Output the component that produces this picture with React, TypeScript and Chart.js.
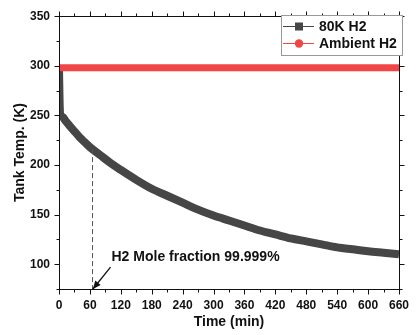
import React, { useEffect, useRef } from "react";
import { Chart, registerables } from "chart.js";

Chart.register(...registerables);

// ---- data ----
const timeMin = [0, 1, 2, 4, 8, 12, 20, 30, 40, 50, 60, 80, 100, 120, 150, 180, 210, 240, 270, 300, 330, 360, 390, 420, 450, 480, 510, 540, 570, 600, 630, 660];
const tank80K = [298, 268, 252, 249, 248, 245, 240, 234, 228, 223, 218, 210, 202, 195, 185, 176, 169, 162, 155, 149, 144, 139, 134, 130, 126, 123, 120, 117, 115, 113, 111.5, 110];
const ambientTime = [0, 660];
const ambientTemp = [298, 298];
const xTicks = [0, 60, 120, 180, 240, 300, 360, 420, 480, 540, 600, 660];
const yTicks = [100, 150, 200, 250, 300, 350];
const seriesLabels = ["80K H2", "Ambient H2"];
const annotationText = "H2 Mole fraction 99.999%";
const markerTime = 64;
const markerTemp = 216;
const arrowFrom = { t: 100, T: 97 };

const DARK = "#464646";
const RED = "#f24646";
const FONT = "Arial, 'Liberation Sans', sans-serif";

const framePlugin = {
  id: "frameTicks",
  afterDatasetsDraw(chart: any) {
    const { ctx, chartArea: a, scales } = chart;
    const xs = scales.x;
    const ys = scales.y;
    ctx.save();
    // dashed marker line
    const mx = xs.getPixelForValue(markerTime);
    ctx.strokeStyle = "#555";
    ctx.lineWidth = 1;
    ctx.setLineDash([5, 3]);
    ctx.beginPath();
    ctx.moveTo(Math.round(mx) + 0.5, ys.getPixelForValue(markerTemp));
    ctx.lineTo(Math.round(mx) + 0.5, a.bottom);
    ctx.stroke();
    ctx.setLineDash([]);
    // arrow
    const ax0 = xs.getPixelForValue(arrowFrom.t);
    const ay0 = ys.getPixelForValue(arrowFrom.T);
    const ax1 = mx + 1;
    const ay1 = a.bottom;
    ctx.strokeStyle = "#111";
    ctx.fillStyle = "#111";
    ctx.lineWidth = 1.3;
    ctx.beginPath();
    ctx.moveTo(ax0, ay0);
    ctx.lineTo(ax1, ay1);
    ctx.stroke();
    const ang = Math.atan2(ay1 - ay0, ax1 - ax0);
    const hl = 8, hw = 3.5;
    ctx.beginPath();
    ctx.moveTo(ax1, ay1);
    ctx.lineTo(ax1 - hl * Math.cos(ang) + hw * Math.sin(ang), ay1 - hl * Math.sin(ang) - hw * Math.cos(ang));
    ctx.lineTo(ax1 - hl * Math.cos(ang) - hw * Math.sin(ang), ay1 - hl * Math.sin(ang) + hw * Math.cos(ang));
    ctx.closePath();
    ctx.fill();
    // annotation text
    ctx.font = "bold 14px " + FONT;
    ctx.fillStyle = "#111";
    ctx.textBaseline = "middle";
    ctx.textAlign = "left";
    ctx.fillText(annotationText, ax0 + 1, ay0 - 10);

    // frame
    ctx.strokeStyle = "#111";
    ctx.lineWidth = 1;
    const L = Math.round(a.left) + 0.5, R = Math.round(a.right) + 0.5;
    const T = Math.round(a.top) + 0.5, B = Math.round(a.bottom) + 0.5;
    ctx.strokeRect(L, T, R - L, B - T);
    ctx.beginPath();
    for (let v = xs.min; v <= xs.max + 0.001; v += 30) {
      const px = Math.round(xs.getPixelForValue(v)) + 0.5;
      const len = v % 60 === 0 ? 5 : 3;
      ctx.moveTo(px, B); ctx.lineTo(px, B + len);
      ctx.moveTo(px, T); ctx.lineTo(px, T - len);
    }
    for (let v = 75; v <= 350.001; v += 25) {
      const py = Math.round(ys.getPixelForValue(v)) + 0.5;
      const len = v % 50 === 0 ? 5 : 3;
      ctx.moveTo(L, py); ctx.lineTo(L - len, py);
      ctx.moveTo(R, py); ctx.lineTo(R + len, py);
    }
    ctx.stroke();

    // legend
    const lx = 281, ly = 15, lw = 121, lh = 40;
    ctx.fillStyle = "#fff";
    ctx.fillRect(lx, ly, lw, lh);
    ctx.strokeStyle = "#999";
    ctx.strokeRect(lx + 0.5, ly + 0.5, lw, lh);
    const rows = [
      { label: seriesLabels[0], color: DARK, shape: "square" },
      { label: seriesLabels[1], color: RED, shape: "circle" },
    ];
    rows.forEach((r, i) => {
      const cy = ly + 11.5 + i * 17;
      ctx.strokeStyle = r.color;
      ctx.lineWidth = 1;
      ctx.beginPath();
      ctx.moveTo(lx + 2, cy);
      ctx.lineTo(lx + 33, cy);
      ctx.stroke();
      ctx.fillStyle = r.color;
      const cx = lx + 18;
      if (r.shape === "square") {
        ctx.fillRect(cx - 4, cy - 4, 8, 8);
      } else {
        ctx.beginPath();
        ctx.arc(cx, cy, 4.2, 0, Math.PI * 2);
        ctx.fill();
      }
      ctx.fillStyle = "#111";
      ctx.font = "bold 14px " + FONT;
      ctx.textAlign = "left";
      ctx.textBaseline = "middle";
      ctx.fillText(r.label, lx + 38, cy + 0.5);
    });
    ctx.restore();
  },
};

export default function App() {
  const ref = useRef<HTMLCanvasElement>(null);
  useEffect(() => {
    document.body.style.margin = "0";
    const canvas = ref.current!;
    const chart = new Chart(canvas, {
      type: "line",
      data: {
        datasets: [
          {
            label: seriesLabels[0],
            data: timeMin.map((t, i) => ({ x: t, y: tank80K[i] })),
            borderColor: DARK,
            backgroundColor: DARK,
            borderWidth: 8,
            pointRadius: 0,
            cubicInterpolationMode: "monotone",
            order: 1,
          },
          {
            label: seriesLabels[1],
            data: ambientTime.map((t, i) => ({ x: t, y: ambientTemp[i] })),
            borderColor: RED,
            backgroundColor: RED,
            borderWidth: 7,
            pointRadius: 0,
            order: 0,
          },
        ],
      },
      options: {
        responsive: false,
        animation: false,
        layout: { padding: { left: 0, right: 13, top: 12, bottom: 0 } },
        plugins: { legend: { display: false }, tooltip: { enabled: false } },
        scales: {
          x: {
            type: "linear",
            min: 0,
            max: 660,
            afterBuildTicks: (s: any) => {
              s.ticks = xTicks.map((v) => ({ value: v }));
            },
            afterFit: (s: any) => {
              s.height = 46;
            },
            grid: { display: false, drawTicks: false },
            border: { display: false },
            ticks: {
              padding: 9,
              color: "#111",
              font: { family: FONT, size: 12, weight: "bold" },
              maxRotation: 0,
              autoSkip: false,
            },
            title: {
              display: true,
              text: "Time (min)",
              color: "#111",
              font: { family: FONT, size: 14, weight: "bold" },
              padding: { top: 4, bottom: 4 },
            },
          },
          y: {
            type: "linear",
            min: 75,
            max: 350,
            afterBuildTicks: (s: any) => {
              s.ticks = yTicks.map((v) => ({ value: v }));
            },
            afterFit: (s: any) => {
              s.width = 59;
            },
            grid: { display: false, drawTicks: false },
            border: { display: false },
            ticks: {
              padding: 9,
              color: "#111",
              font: { family: FONT, size: 12, weight: "bold" },
            },
            title: {
              display: true,
              text: "Tank Temp. (K)",
              color: "#111",
              font: { family: FONT, size: 14, weight: "bold" },
              padding: { top: 12, bottom: 4 },
            },
          },
        },
      },
      plugins: [framePlugin],
    } as any);
    return () => chart.destroy();
  }, []);
  return <canvas ref={ref} width={418} height={335} style={{ display: "block" }} />;
}
